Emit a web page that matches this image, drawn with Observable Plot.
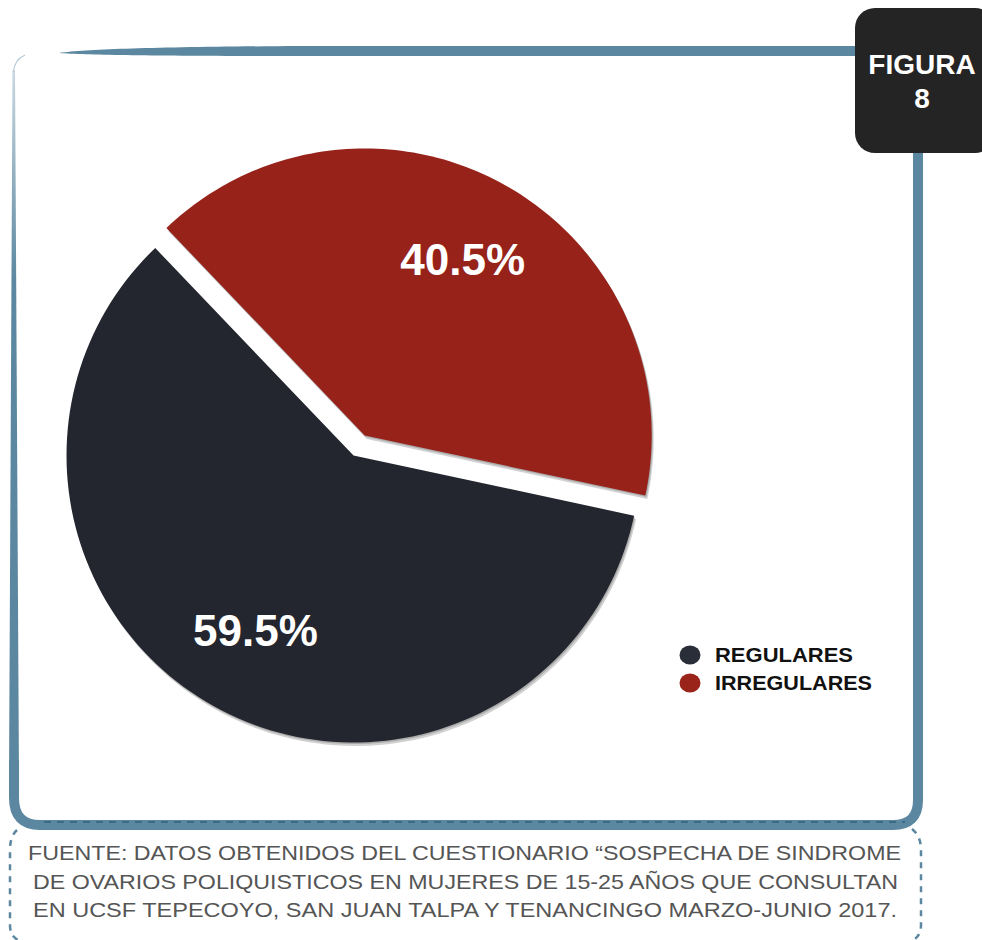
<!DOCTYPE html>
<html>
<head>
<meta charset="utf-8">
<script src="https://cdn.jsdelivr.net/npm/d3@7"></script>
<script src="https://cdn.jsdelivr.net/npm/@observablehq/plot@0.6"></script>
<style>
  html, body { margin: 0; padding: 0; background: #fff; overflow: hidden; }
  #wrap { position: relative; width: 982px; height: 940px; background: #fff; }
  #chart { width: 982px; height: 940px; }
  #deco { position: absolute; left: 0; top: 0; }
  #err { position: absolute; left: 40px; top: 300px; font: 12px monospace; color: red; white-space: pre-wrap; width: 800px; }
</style>
</head>
<body>
<div id="wrap">
  <div id="chart"></div>
  <svg id="deco" width="982" height="940"></svg>
  <div id="err"></div>
</div>
<script>
// ---- data ----
const categories = ["REGULARES", "IRREGULARES"];
const values = [59.5, 40.5];
const valueLabels = ["59.5%", "40.5%"];
const figureTitle = ["FIGURA", "8"];
const captionLines = [
  "FUENTE: DATOS OBTENIDOS DEL CUESTIONARIO \u201CSOSPECHA DE SINDROME",
  "DE OVARIOS POLIQUISTICOS EN MUJERES DE 15-25 AÑOS QUE CONSULTAN",
  "EN UCSF TEPECOYO, SAN JUAN TALPA Y TENANCINGO MARZO-JUNIO 2017."
];

// ---- styling / layout constants ----
const gradIds = {REGULARES: "gDark", IRREGULARES: "gRed"};
const swatch = {REGULARES: "#23262e", IRREGULARES: "#96221a"};
const legendSwatch = {REGULARES: "#2a2e38", IRREGULARES: "#9a231a"};
const explode = {REGULARES: 0, IRREGULARES: 0.08};
const cx = 353, cy = 455, R = 287;
const startDeg = 102.1;
const frameColor = "#5b87a0";

// ---- gradient definitions (in the decoration svg) ----
const deco = d3.select("#deco");
const ddefs = deco.append("defs");
const gd = ddefs.append("radialGradient").attr("id", "gDark")
  .attr("gradientUnits", "userSpaceOnUse").attr("cx", 110).attr("cy", 430).attr("r", 560);
gd.append("stop").attr("offset", 0).attr("stop-color", "#4a4e58");
gd.append("stop").attr("offset", 0.35).attr("stop-color", "#2a2d36");
gd.append("stop").attr("offset", 1).attr("stop-color", "#121318");
const gr = ddefs.append("radialGradient").attr("id", "gRed")
  .attr("gradientUnits", "userSpaceOnUse").attr("cx", 330).attr("cy", 240).attr("r", 480);
gr.append("stop").attr("offset", 0).attr("stop-color", "#a2271d");
gr.append("stop").attr("offset", 1).attr("stop-color", "#8a1f16");
const lgrad = ddefs.append("linearGradient").attr("id", "leftFade")
  .attr("x1", 0).attr("y1", 0).attr("x2", 0).attr("y2", 1);
lgrad.append("stop").attr("offset", 0).attr("stop-color", "#c9d8e1");
lgrad.append("stop").attr("offset", 0.3).attr("stop-color", frameColor);
lgrad.append("stop").attr("offset", 1).attr("stop-color", frameColor);

try {
// ---- pie geometry (unit circle, y up) ----
const rad = Math.PI / 180;
const pie = d3.pie().sort(null).value(d => d.value)
  .startAngle(startDeg * rad).endAngle((startDeg + 360) * rad);
const table = categories.map((c, i) => ({key: c, value: values[i], label: valueLabels[i]}));
const arcs = pie(table);
const points = [];
const labelPts = [];
for (const a of arcs) {
  const mid = (a.startAngle + a.endAngle) / 2;
  const k = explode[a.data.key];
  const ox = k * Math.sin(mid), oy = k * Math.cos(mid);
  points.push({key: a.data.key, x: ox, y: oy});
  const n = 120;
  for (let j = 0; j <= n; j++) {
    const t = a.startAngle + (a.endAngle - a.startAngle) * j / n;
    points.push({key: a.data.key, x: ox + Math.sin(t), y: oy + Math.cos(t)});
  }
  labelPts.push({key: a.data.key, text: a.data.label, x: ox + 0.7 * Math.sin(mid), y: oy + 0.7 * Math.cos(mid)});
}
const slice = c => points.filter(p => p.key === c);

const chart = Plot.plot({
  width: 982,
  height: 940,
  marginTop: 0, marginRight: 0, marginBottom: 0, marginLeft: 0,
  x: {type: "linear", domain: [-1, 1], range: [cx - R, cx + R], axis: null},
  y: {type: "linear", domain: [-1, 1], range: [cy + R, cy - R], axis: null},
  marks: [
    // soft shadow
    ...categories.map(c => Plot.line(slice(c), {x: "x", y: "y", fill: "#000", fillOpacity: 0.18, stroke: "none", dx: 2, dy: 3.5})),
    ...categories.map(c => Plot.line(slice(c), {x: "x", y: "y", fill: "#000", fillOpacity: 0.18, stroke: "none", dx: 1, dy: 1.5})),
    // base solid slices
    ...categories.map(c => Plot.line(slice(c), {x: "x", y: "y", fill: swatch[c], stroke: "none"})),
    // edge highlight / gradient shading overlay
    ...categories.map(c => Plot.line(slice(c), {
      x: "x", y: "y", fill: swatch[c], stroke: "#ffffff", strokeOpacity: c === "REGULARES" ? 0.1 : 0.04,
      strokeWidth: 1.5, ariaLabel: "shade-" + c
    })),
    Plot.text(labelPts, {
      x: "x", y: "y", text: "text", fill: "white",
      fontSize: 44, fontWeight: "bold", fontFamily: "Liberation Sans, Arial, sans-serif",
      textAnchor: "middle", dy: 1, ariaLabel: "pct"
    })
  ]
});
document.getElementById("chart").appendChild(chart);

const svg = d3.select(chart);
categories.forEach(c => {
  svg.selectAll(`g[aria-label="shade-${c}"] path`).attr("fill", `url(#${gradIds[c]})`);
});
} catch (e) {
  document.getElementById("err").textContent = String(e && e.stack || e);
}

// ---- decoration: frame, figure tag, legend, caption ----
// top tapered bar
deco.append("path").attr("fill", frameColor)
  .attr("d", "M59,53 C90,49 160,47 300,46 L880,46 L880,56 L300,56 C160,56 90,55 59,53 Z");
// right + bottom
deco.append("path").attr("fill", "none").attr("stroke", frameColor).attr("stroke-width", 10)
  .attr("d", "M918,140 L918,800 Q918,825 893,825 L40,825 Q14,825 14,798 L14,760");
// left thin side, tapered
deco.append("path").attr("fill", "url(#leftFade)")
  .attr("d", "M9,780 L19,780 L15,70 L12.5,70 Z");
deco.append("path").attr("fill", "none").attr("stroke", "#b5cad7").attr("stroke-width", 1.2)
  .attr("d", "M13.5,72 Q14,60 25,55");
// dashed line along bottom
deco.append("path").attr("fill", "none").attr("stroke", "#3c6b87").attr("stroke-width", 2)
  .attr("stroke-dasharray", "7,6").attr("d", "M44,822 L905,822");
// caption dashed box
deco.append("path").attr("fill", "none").attr("stroke", frameColor).attr("stroke-width", 2.5)
  .attr("stroke-dasharray", "6,6")
  .attr("d", "M17,830 Q10,836 10,850 L10,925 Q10,936 18,940");
deco.append("path").attr("fill", "none").attr("stroke", frameColor).attr("stroke-width", 2.5)
  .attr("stroke-dasharray", "6,6")
  .attr("d", "M912,829 Q921,836 921,850 L921,925 Q921,936 913,940");

// figure tag
deco.append("rect").attr("x", 855).attr("y", 8).attr("width", 140).attr("height", 145)
  .attr("rx", 20).attr("fill", "#242424");
deco.selectAll("text.fig").data(figureTitle).join("text").attr("class", "fig")
  .attr("x", 922).attr("y", (d, i) => 74 + i * 34)
  .attr("text-anchor", "middle").attr("fill", "#fff")
  .attr("font-family", "Liberation Sans, Arial, sans-serif").attr("font-weight", "bold")
  .attr("font-size", 28).text(d => d);

// legend
const lg = deco.append("g");
categories.forEach((c, i) => {
  lg.append("ellipse").attr("cx", 690).attr("cy", 655 + i * 28).attr("rx", 10.5).attr("ry", 9.5)
    .attr("fill", legendSwatch[c]);
  lg.append("text").attr("x", 715).attr("y", 662 + i * 28)
    .attr("font-family", "Liberation Sans, Arial, sans-serif").attr("font-weight", "bold")
    .attr("font-size", 19.5).attr("fill", "#111")
    .attr("textLength", [138, 157][i]).attr("lengthAdjust", "spacingAndGlyphs")
    .text(c);
});

// caption
const capX = [28, 33, 33], capW = [873, 865, 864];
captionLines.forEach((t, i) => {
  deco.append("text").attr("x", capX[i]).attr("y", 860 + i * 28.5)
    .attr("font-family", "Liberation Sans, Arial, sans-serif")
    .attr("font-size", 21).attr("fill", "#555")
    .attr("textLength", capW[i]).attr("lengthAdjust", "spacingAndGlyphs")
    .text(t);
});
</script>
</body>
</html>
